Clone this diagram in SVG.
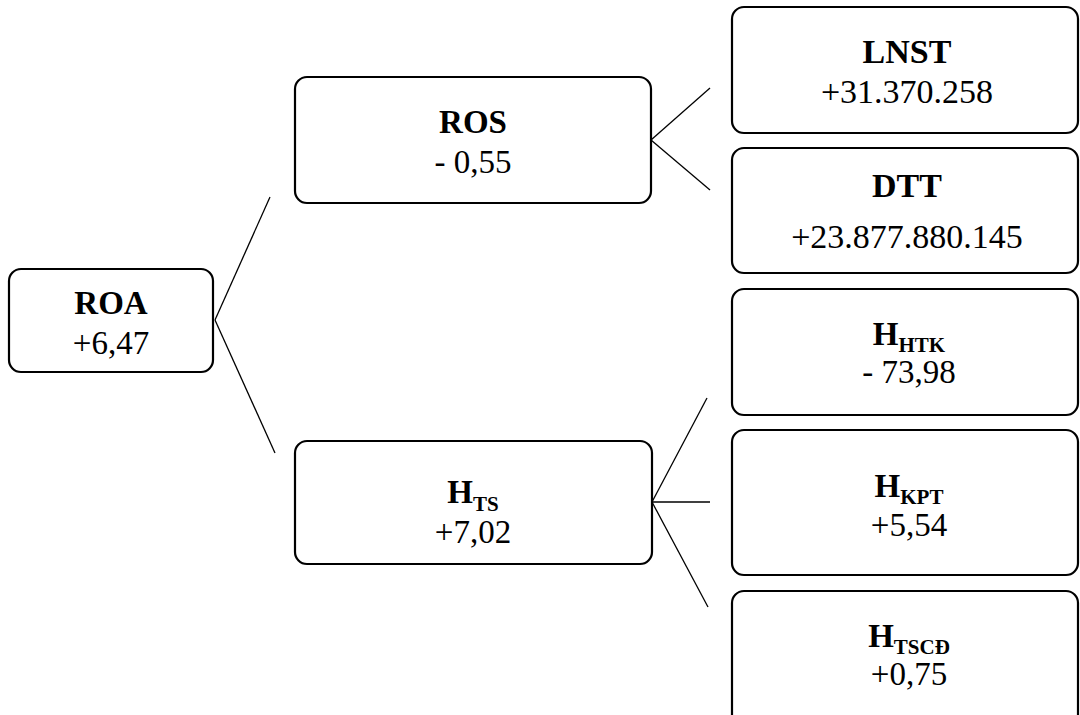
<svg xmlns="http://www.w3.org/2000/svg" width="1080" height="715" viewBox="0 0 1080 715">
<style>
.box{fill:#fff;stroke:#000;stroke-width:2.2}
.ln{stroke:#000;stroke-width:1.3;fill:none}
svg text, svg tspan{font-family:'Liberation Serif','Times New Roman',serif !important}
</style>
<rect width="1080" height="715" fill="#fff"/>
<g id="connectors">
<line class="ln" x1="215" y1="320" x2="270" y2="197"/>
<line class="ln" x1="215" y1="320" x2="275" y2="453"/>
<line class="ln" x1="651" y1="140" x2="710" y2="88"/>
<line class="ln" x1="651" y1="140" x2="710" y2="190"/>
<line class="ln" x1="652" y1="502" x2="707" y2="398"/>
<line class="ln" x1="652" y1="502" x2="710" y2="502"/>
<line class="ln" x1="652" y1="502" x2="708" y2="607"/>
</g>
<g id="roa">
<rect class="box" x="9" y="269" width="204" height="103" rx="12"/>
<text x="111" y="314" style="font-family:'Liberation Serif',serif !important" font-family="Liberation Serif" font-size="33" font-weight="bold" text-anchor="middle">ROA</text>
<text x="111" y="354" style="font-family:'Liberation Serif',serif !important" font-family="Liberation Serif" font-size="33" text-anchor="middle">+6,47</text>
</g>
<g id="ros">
<rect class="box" x="295" y="77" width="356" height="126" rx="12"/>
<text x="473" y="133" style="font-family:'Liberation Serif',serif !important" font-family="Liberation Serif" font-size="33" font-weight="bold" text-anchor="middle">ROS</text>
<text x="473" y="173" style="font-family:'Liberation Serif',serif !important" font-family="Liberation Serif" font-size="33" text-anchor="middle">- 0,55</text>
</g>
<g id="hts">
<rect class="box" x="295" y="441" width="357" height="123" rx="12"/>
<text x="473" y="503" style="font-family:'Liberation Serif',serif !important" font-family="Liberation Serif" font-size="33" font-weight="bold" text-anchor="middle">H<tspan font-size="21" dy="8">TS</tspan></text>
<text x="473" y="543" style="font-family:'Liberation Serif',serif !important" font-family="Liberation Serif" font-size="33" text-anchor="middle">+7,02</text>
</g>
<g id="lnst">
<rect class="box" x="732" y="7" width="346" height="126" rx="12"/>
<text x="907" y="63" style="font-family:'Liberation Serif',serif !important" font-family="Liberation Serif" font-size="34" font-weight="bold" text-anchor="middle">LNST</text>
<text x="907" y="103" style="font-family:'Liberation Serif',serif !important" font-family="Liberation Serif" font-size="34" text-anchor="middle">+31.370.258</text>
</g>
<g id="dtt">
<rect class="box" x="732" y="148" width="346" height="125" rx="12"/>
<text x="907" y="197" style="font-family:'Liberation Serif',serif !important" font-family="Liberation Serif" font-size="34" font-weight="bold" text-anchor="middle">DTT</text>
<text x="907" y="248" style="font-family:'Liberation Serif',serif !important" font-family="Liberation Serif" font-size="34" text-anchor="middle">+23.877.880.145</text>
</g>
<g id="hhtk">
<rect class="box" x="732" y="289" width="346" height="126" rx="12"/>
<text x="909" y="345" style="font-family:'Liberation Serif',serif !important" font-family="Liberation Serif" font-size="33" font-weight="bold" text-anchor="middle">H<tspan font-size="21" dy="7">HTK</tspan></text>
<text x="909" y="383" style="font-family:'Liberation Serif',serif !important" font-family="Liberation Serif" font-size="33" text-anchor="middle">- 73,98</text>
</g>
<g id="hkpt">
<rect class="box" x="732" y="430" width="346" height="145" rx="12"/>
<text x="909" y="497" style="font-family:'Liberation Serif',serif !important" font-family="Liberation Serif" font-size="33" font-weight="bold" text-anchor="middle">H<tspan font-size="21" dy="7">KPT</tspan></text>
<text x="909" y="536" style="font-family:'Liberation Serif',serif !important" font-family="Liberation Serif" font-size="33" text-anchor="middle">+5,54</text>
</g>
<g id="htscd">
<rect class="box" x="732" y="591" width="346" height="140" rx="12"/>
<text x="909" y="647" style="font-family:'Liberation Serif',serif !important" font-family="Liberation Serif" font-size="33" font-weight="bold" text-anchor="middle">H<tspan font-size="21" dy="7">TSCĐ</tspan></text>
<text x="909" y="685" style="font-family:'Liberation Serif',serif !important" font-family="Liberation Serif" font-size="33" text-anchor="middle">+0,75</text>
</g>
</svg>
